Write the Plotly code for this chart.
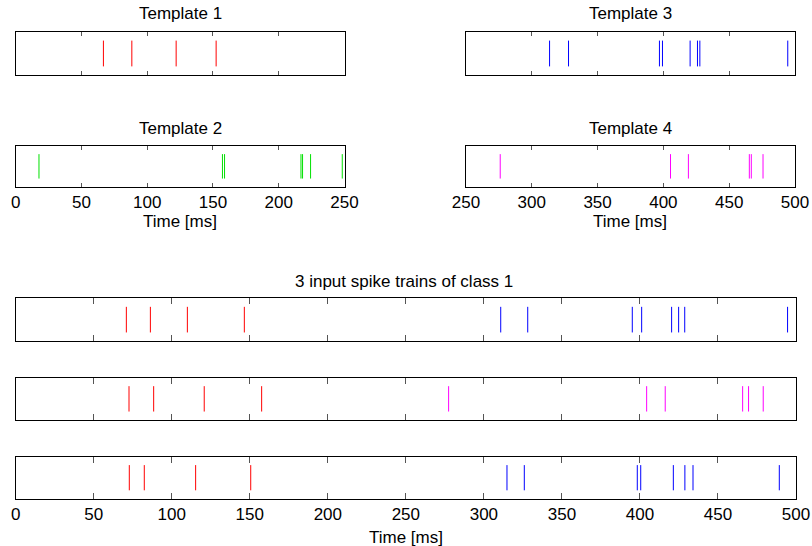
import plotly.graph_objects as go

# ---- data (spike times in ms) ----
template1 = [66.7, 88.3, 122.0, 152.4]
template2 = [17.7, 157.2, 158.8, 216.9, 218.1, 224.2, 248.3]
template3 = [313.5, 327.9, 397.0, 399.3, 420.3, 425.9, 427.7, 494.5]
template4 = [276.0, 405.4, 419.0, 465.3, 466.8, 475.7]

train1_red = [70.9, 86.3, 110.0, 146.5]
train1_blue = [310.8, 328.1, 395.1, 401.1, 420.3, 424.8, 428.7, 494.6]
train2_red = [72.6, 88.4, 120.8, 157.6]
train2_mag = [277.4, 404.3, 416.2, 465.8, 469.6, 479.0]
train3_red = [72.8, 82.4, 115.3, 150.6]
train3_blue = [314.8, 325.9, 398.3, 400.5, 421.4, 428.8, 434.0, 489.3]

ticks_left = [0, 50, 100, 150, 200, 250]
ticks_right = [250, 300, 350, 400, 450, 500]
ticks_full = [0, 50, 100, 150, 200, 250, 300, 350, 400, 450, 500]

RED, GREEN, BLUE, MAG = "#ff0000", "#00e000", "#0000ff", "#ff00ff"
W, H = 812, 546


def spikes(times, color, ax):
    xs, ys = [], []
    for t in times:
        xs += [t, t, None]
        ys += [0.2, 0.8, None]
    return go.Scatter(x=xs, y=ys, mode="lines", line=dict(color=color, width=1),
                      xaxis="x" + ax, yaxis="y" + ax, showlegend=False,
                      hoverinfo="skip")


def py(top_px, bot_px):
    return [1 - bot_px / H, 1 - top_px / H]


fig = go.Figure()
fig.add_trace(spikes(template1, RED, ""))
fig.add_trace(spikes(template2, GREEN, "2"))
fig.add_trace(spikes(template3, BLUE, "3"))
fig.add_trace(spikes(template4, MAG, "4"))
fig.add_trace(spikes(train1_red, RED, "5"))
fig.add_trace(spikes(train1_blue, BLUE, "5"))
fig.add_trace(spikes(train2_red, RED, "6"))
fig.add_trace(spikes(train2_mag, MAG, "6"))
fig.add_trace(spikes(train3_red, RED, "7"))
fig.add_trace(spikes(train3_blue, BLUE, "7"))

font = dict(family="Liberation Sans, Arial, sans-serif", size=17, color="black")

xl = [15.7 / W, 344.5 / W]
xr = [466 / W, 795 / W]
xf = [15.7 / W, 796 / W]

panels = {
    "": (xl, py(32, 75), [0, 250], ticks_left, False, 4),
    "2": (xl, py(146, 186.7), [0, 250], ticks_left, True, 4),
    "3": (xr, py(32, 75), [250, 500], ticks_right, False, 4),
    "4": (xr, py(146, 186.7), [250, 500], ticks_right, True, 4),
    "5": (xf, py(298.3, 341), [0, 500], ticks_full, False, 6),
    "6": (xf, py(377.7, 420), [0, 500], ticks_full, False, 6),
    "7": (xf, py(456.7, 498.7), [0, 500], ticks_full, True, 6),
}

layout = dict(width=W, height=H, margin=dict(l=0, r=0, t=0, b=0, autoexpand=False),
              paper_bgcolor="white", plot_bgcolor="white", font=font,
              template="none")

for ax, (xd, yd, rng, tv, labels, tl) in panels.items():
    layout["xaxis" + ax] = dict(
        domain=xd, range=rng, anchor="y" + ax, tickmode="array", tickvals=tv,
        ticks="inside", ticklen=tl, tickcolor="#555555", tickwidth=1,
        showline=True, linecolor="black", linewidth=1, mirror="allticks",
        showgrid=False, zeroline=False, showticklabels=labels, automargin=False,
        tickfont=font, ticklabelstandoff=0)
    layout["yaxis" + ax] = dict(
        domain=yd, range=[0, 1], anchor="x" + ax, showticklabels=False,
        ticks="", showline=True, linecolor="black", linewidth=1, mirror=True,
        showgrid=False, zeroline=False, fixedrange=True, automargin=False)

fig.update_layout(**layout)


def ann(text, xc, yc):
    fig.add_annotation(text=text, x=xc / W, y=1 - yc / H, xref="paper", yref="paper",
                       showarrow=False, xanchor="center", yanchor="middle", font=font)


ann("Template 1", 180, 13)
ann("Template 3", 630, 13)
ann("Template 2", 180, 128.5)
ann("Template 4", 630, 128.5)
ann("Time [ms]", 180, 221)
ann("Time [ms]", 630, 221)
ann("3 input spike trains of class 1", 404, 281)
ann("Time [ms]", 406, 537)

fig.write_html("out.html")
